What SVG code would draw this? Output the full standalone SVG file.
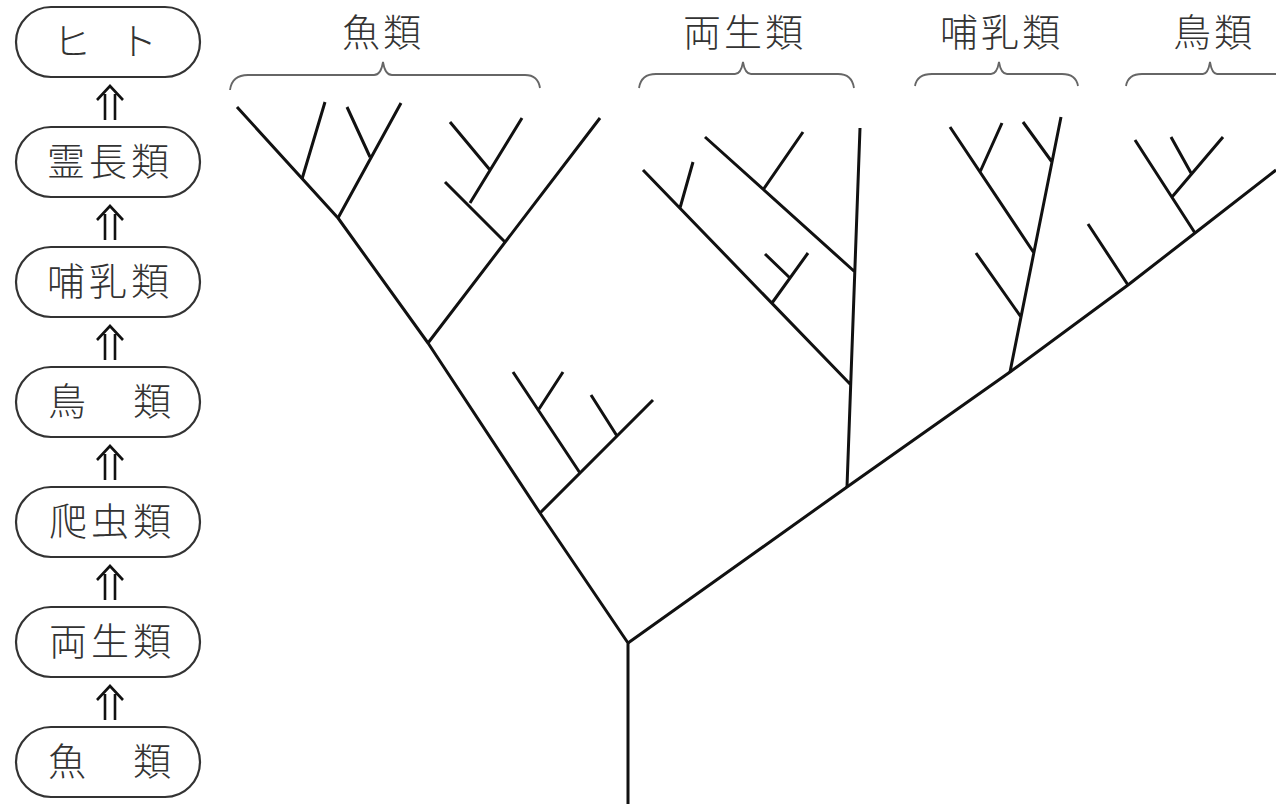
<svg xmlns="http://www.w3.org/2000/svg" width="1276" height="804" viewBox="0 0 1276 804">
<style>
.pill{fill:#fff;stroke:#333;stroke-width:2.2}
.t{font-family:"Noto Sans CJK JP","Noto Sans CJK SC",sans-serif;font-size:38px;font-weight:300;fill:#333;text-anchor:middle}
.tree{fill:none;stroke:#111;stroke-width:3;stroke-linejoin:round}
.brace{fill:none;stroke:#666;stroke-width:1.8}
.arr{fill:none;stroke:#111;stroke-width:2.6}
</style>
<rect width="1276" height="804" fill="#fff"/>
<g id="node-hito"><rect class="pill" x="16" y="7" width="184" height="70" rx="35"/><text class="t" x="72 138" y="55">ヒト</text></g>
<g id="node-reichorui"><rect class="pill" x="16" y="127" width="184" height="70" rx="35"/><text class="t" x="66 108 150" y="175">霊長類</text></g>
<g id="node-honyurui"><rect class="pill" x="16" y="247" width="184" height="70" rx="35"/><text class="t" x="66 108 150" y="295">哺乳類</text></g>
<g id="node-chorui"><rect class="pill" x="16" y="367" width="184" height="70" rx="35"/><text class="t" x="67 152" y="415">鳥類</text></g>
<g id="node-hachurui"><rect class="pill" x="16" y="487" width="184" height="70" rx="35"/><text class="t" x="68 110 152" y="535">爬虫類</text></g>
<g id="node-ryoseirui"><rect class="pill" x="16" y="607" width="184" height="70" rx="35"/><text class="t" x="68 110 152" y="655">両生類</text></g>
<g id="node-gyorui"><rect class="pill" x="16" y="727" width="184" height="70" rx="35"/><text class="t" x="67 152" y="775">魚類</text></g>
<g id="connectors">
<path class="arr" d="M97,100 L110,86 L123,100 M105,94 V120 M115,94 V120"/>
<path class="arr" d="M97,220 L110,206 L123,220 M105,214 V240 M115,214 V240"/>
<path class="arr" d="M97,340 L110,326 L123,340 M105,334 V360 M115,334 V360"/>
<path class="arr" d="M97,460 L110,446 L123,460 M105,454 V480 M115,454 V480"/>
<path class="arr" d="M97,580 L110,566 L123,580 M105,574 V600 M115,574 V600"/>
<path class="arr" d="M97,700 L110,686 L123,700 M105,694 V720 M115,694 V720"/>
</g>
<g id="label-fish"><path class="brace" d="M230,90 Q232,75 248,75 L374,75 Q381,75 383,62 Q385,75 392,75 L525,75 Q538,75 540,88"/><text class="t" x="361 402" y="46">魚類</text></g>
<g id="label-amphibian"><path class="brace" d="M639,88 Q641,74 656,74 L735,74 Q741,74 743,62 Q745,74 751,74 L838,74 Q852,74 854,88"/><text class="t" x="702 743 784" y="46">両生類</text></g>
<g id="label-mammal"><path class="brace" d="M915,86 Q917,74 932,74 L991,74 Q997,74 999,62 Q1001,74 1007,74 L1062,74 Q1076,74 1078,86"/><text class="t" x="959 1000 1041" y="46">哺乳類</text></g>
<g id="label-bird"><path class="brace" d="M1126,86 Q1128,74 1142,74 L1203,74 Q1208,74 1210,62 Q1212,74 1217,74 L1290,74"/><text class="t" x="1192 1233" y="46">鳥類</text></g>
<g id="tree">
<path class="tree" d="M628,804 V643 L540,513 L428,343 L338,218 L237,107"/>
<path class="tree" d="M628,643 L847,487 L1010,372 L1128,285 L1195,233 L1276,170"/>
<path class="tree" d="M302,179 L325,102 M338,218 L401,103 M370,157 L347,107"/>
<path class="tree" d="M428,343 L600,118 M445,182 L505,242 M470,203 L522,118 M490,170 L450,122"/>
<path class="tree" d="M540,513 L653,400 M580,473 L513,372 M539,409 L563,372 M617,436 L591,395"/>
<path class="tree" d="M847,487 L860,128 M851,385 L643,170 M680,208 L693,162 M772,303 L808,253 M790,278 L765,254 M855,272 L705,137 M763,190 L803,132"/>
<path class="tree" d="M1010,372 L1061,117 M1021,317 L976,253 M1034,253 L950,127 M980,172 L1002,123 M1052,162 L1023,122"/>
<path class="tree" d="M1128,285 L1088,224 M1195,233 L1135,140 M1172,197 L1223,137 M1191,173 L1171,137"/>
</g>
</svg>
